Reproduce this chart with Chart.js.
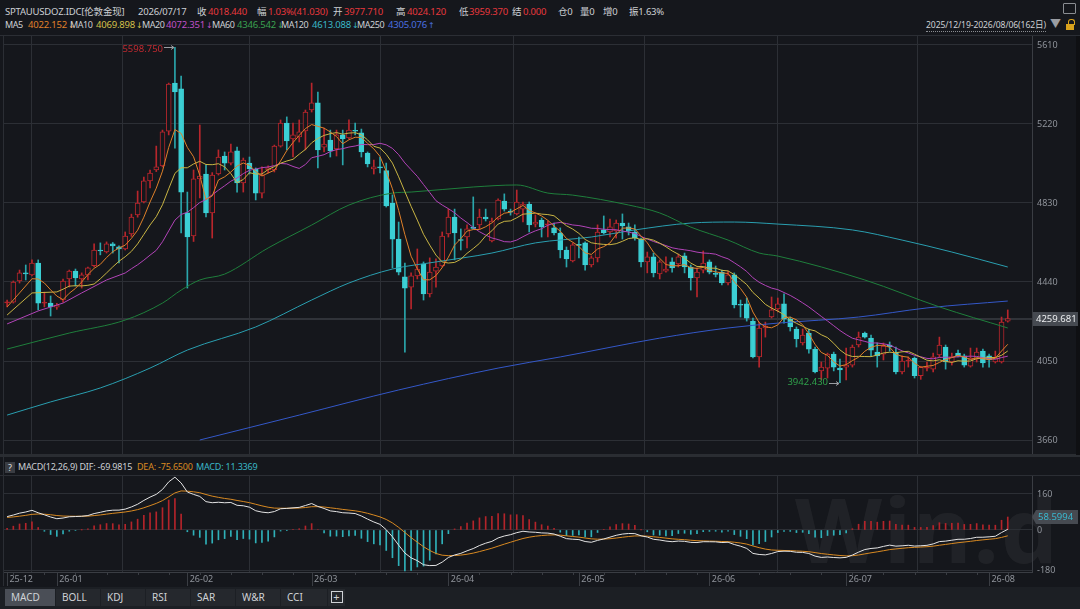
<!DOCTYPE html>
<html>
<head>
<meta charset="utf-8">
<script src="https://cdn.jsdelivr.net/npm/chart.js@4.4.1/dist/chart.umd.min.js"></script>
<style>
  body { margin:0; width:1080px; height:609px; background:#15171c; position:relative; overflow:hidden;
         font-family:"Noto Sans","Noto Sans CJK SC",sans-serif; font-size:9.5px; color:#cdd0d4; }
  .t { position:absolute; white-space:nowrap; line-height:12px; letter-spacing:-0.2px; }
  .lb { font-size:9px; letter-spacing:-0.4px; }
  .ar { font-family:"DejaVu Sans",sans-serif; font-size:8px; margin-left:1px; }
  .red { color:#e8383d; }
  .hl { position:absolute; left:0; width:1080px; height:1px; background:#2b2e34; }
  canvas { position:absolute; left:0; }
  .tab { position:absolute; top:589px; height:17px; line-height:17px; background:#25282d; color:#cfd2d6;
         font-size:10px; padding-left:6px; box-sizing:border-box; }
</style>
</head>
<body>
<!-- header row 1 -->
<span class="t" style="left:5px;top:6px">SPTAUUSDOZ.IDC[伦敦金现]</span>
<span class="t" style="left:138px;top:6px">2026/07/17</span>
<span class="t" style="left:197px;top:6px">收</span><span class="t red" style="left:208px;top:6px">4018.440</span>
<span class="t" style="left:257px;top:6px">幅</span><span class="t red" style="left:268px;top:6px">1.03%(41.030)</span>
<span class="t" style="left:333px;top:6px">开</span><span class="t red" style="left:344px;top:6px">3977.710</span>
<span class="t" style="left:396px;top:6px">高</span><span class="t red" style="left:407px;top:6px">4024.120</span>
<span class="t" style="left:459px;top:6px">低</span><span class="t red" style="left:469px;top:6px">3959.370</span>
<span class="t" style="left:512px;top:6px">结</span><span class="t red" style="left:523px;top:6px">0.000</span>
<span class="t" style="left:558px;top:6px">仓0</span>
<span class="t" style="left:580px;top:6px">量0</span>
<span class="t" style="left:603px;top:6px">增0</span>
<span class="t" style="left:629px;top:6px">振1.63%</span>
<!-- header row 2 -->
<span class="t lb" style="left:5px;top:19px">MA5</span><span class="t" style="left:28px;top:19px;color:#e0802a">4022.152<span class="ar">↓</span></span>
<span class="t lb" style="left:70px;top:19px">MA10</span><span class="t" style="left:96px;top:19px;color:#d4c04a">4069.898<span class="ar">↓</span></span>
<span class="t lb" style="left:142px;top:19px">MA20</span><span class="t" style="left:166px;top:19px;color:#c050c8">4072.351<span class="ar">↓</span></span>
<span class="t lb" style="left:212px;top:19px">MA60</span><span class="t" style="left:237px;top:19px;color:#3aa050">4346.542<span class="ar">↓</span></span>
<span class="t lb" style="left:281px;top:19px">MA120</span><span class="t" style="left:312px;top:19px;color:#3ab8c8">4613.088<span class="ar">↓</span></span>
<span class="t lb" style="left:357px;top:19px">MA250</span><span class="t" style="left:388px;top:19px;color:#4a70e0">4305.076<span class="ar">↑</span></span>
<span class="t" style="left:926px;top:19px;font-size:8.6px;letter-spacing:-0.1px;border-bottom:1px dotted #8a8d92">2025/12/19-2026/08/06(162日)</span>
<span class="t" style="left:1050px;top:18px;color:#9a9da2;font-size:11px">▼</span>
<div style="position:absolute;left:1066px;top:24px;width:8px;height:6px;background:#d9a21c"></div>
<div style="position:absolute;left:1068px;top:19px;width:5px;height:5px;border:1px solid #d9a21c;border-bottom:none;border-radius:3px 3px 0 0"></div>
<div style="position:absolute;left:1063px;top:3px;width:11px;height:9px;border:1px solid #8a8d92;border-radius:1px"></div>

<div class="hl" style="top:35px"></div>
<div class="hl" style="top:454px;height:3px;background:#2a2d32"></div>
<div class="hl" style="top:475px"></div>
<div style="position:absolute;left:3px;top:36px;width:1px;height:550px;background:#2b2e34"></div>
<div style="position:absolute;left:1076px;top:36px;width:4px;height:419px;background:#0f1013"></div>

<!-- MACD title -->
<div style="position:absolute;left:5px;top:462px;width:10px;height:11px;background:#3a3d43;color:#e0e0e0;font-size:9px;line-height:11px;text-align:center">?</div>
<span class="t" style="left:18px;top:461px;font-size:9px">MACD(12,26,9) DIF: -69.9815</span>
<span class="t" style="left:137px;top:461px;font-size:9px;color:#d98a22">DEA: -75.6500</span>
<span class="t" style="left:196px;top:461px;font-size:9px;color:#3ab8c8">MACD: 11.3369</span>

<div class="t" style="left:795px;top:478px;font-size:90px;line-height:100px;font-weight:bold;color:rgba(255,255,255,0.05);letter-spacing:2px">Win.d</div>

<canvas id="main" width="1080" height="418" style="top:36px"></canvas>
<canvas id="macd" width="1080" height="110" style="top:476px"></canvas>

<!-- bottom tabs -->
<div style="position:absolute;left:0;top:587px;width:1080px;height:22px;background:#1c1f24"></div>
<div class="tab" style="left:5px;width:50px;background:#4a4e56">MACD</div>
<div class="tab" style="left:56px;width:44px">BOLL</div>
<div class="tab" style="left:101px;width:44px">KDJ</div>
<div class="tab" style="left:146px;width:44px">RSI</div>
<div class="tab" style="left:191px;width:44px">SAR</div>
<div class="tab" style="left:236px;width:44px">W&amp;R</div>
<div class="tab" style="left:281px;width:46px">CCI</div>
<div class="tab" style="left:328px;width:17px;padding-left:0;text-align:center">
  <span style="display:inline-block;width:10px;height:10px;border:1px solid #cfd2d6;line-height:9px;font-size:11px;margin-top:2px">+</span></div>

<script>
// ---- data: 162 daily candles, 2025/12/19 - 2026/08/06 ----
const opens = [
  4337, 4341, 4445, 4484, 4475, 4534, 4335, 4336, 4316, 4351,
  4455, 4494, 4455, 4475, 4520, 4596, 4588, 4628, 4613, 4603,
  4677, 4771, 4835, 4939, 4993, 5013, 5185, 5422, 5393, 4781,
  4667, 4949, 4973, 4781, 4973, 5062, 5027, 5087, 4929, 5027,
  4998, 4879, 4993, 4993, 5111, 5225, 5146, 5156, 5186, 5289,
  5324, 5106, 5141, 5097, 5166, 5151, 5186, 5176, 5077, 4998,
  5006, 4990, 4830, 4652, 4465, 4415, 4470, 4529, 4381, 4494,
  4519, 4677, 4761, 4650, 4662, 4708, 4722, 4761, 4643, 4751,
  4840, 4788, 4776, 4800, 4825, 4726, 4746, 4722, 4707, 4682,
  4598, 4544, 4625, 4633, 4524, 4559, 4697, 4687, 4692, 4731,
  4712, 4687, 4652, 4539, 4564, 4480, 4494, 4539, 4529, 4569,
  4514, 4460, 4499, 4539, 4482, 4489, 4435, 4475, 4329, 4332,
  4247, 4070, 4213, 4267, 4307, 4332, 4257, 4208, 4139, 4188,
  4109, 4001, 4015, 4084, 4015, 4020, 4030, 4129, 4188, 4163,
  4094, 4084, 4129, 4094, 3996, 4050, 4065, 3977.71, 4015, 4010,
  4080, 4119, 4045, 4089, 4075, 4025, 4060, 4099, 4075, 4045,
  4045, 4247
];
const highs = [
  4351, 4445, 4499, 4524, 4549, 4549, 4390, 4371, 4335, 4455,
  4499, 4504, 4485, 4514, 4628, 4633, 4638, 4635, 4618, 4687,
  4775, 4889, 4958, 4993, 5111, 5190, 5422, 5598.75, 5457, 4884,
  4993, 5215, 5018, 4980, 5092, 5082, 5121, 5106, 5052, 5057,
  5003, 5008, 5013, 5116, 5240, 5255, 5225, 5240, 5289, 5422,
  5378, 5200, 5190, 5190, 5190, 5240, 5225, 5195, 5082, 5042,
  5057, 5027, 4870, 4736, 4534, 4485, 4603, 4539, 4559, 4554,
  4687, 4800, 4800, 4702, 4722, 4860, 4800, 4800, 4756, 4850,
  4875, 4800, 4894, 4835, 4835, 4771, 4756, 4741, 4731, 4707,
  4613, 4633, 4662, 4638, 4569, 4722, 4766, 4751, 4746, 4776,
  4731, 4722, 4657, 4588, 4583, 4549, 4564, 4559, 4578, 4583,
  4524, 4509, 4593, 4549, 4519, 4499, 4494, 4485, 4351, 4361,
  4262, 4242, 4242, 4366, 4361, 4381, 4267, 4218, 4208, 4208,
  4119, 4045, 4089, 4094, 4060, 4114, 4129, 4193, 4193, 4178,
  4139, 4139, 4144, 4119, 4075, 4070, 4070, 4024.12, 4045, 4089,
  4168, 4129, 4089, 4104, 4084, 4114, 4114, 4109, 4084, 4099,
  4267, 4302
];
const lows = [
  4317, 4336, 4435, 4450, 4470, 4302, 4317, 4272, 4305, 4341,
  4415, 4420, 4410, 4450, 4514, 4574, 4583, 4583, 4534, 4598,
  4665, 4760, 4830, 4904, 4985, 5008, 5166, 5101, 4682, 4410,
  4640, 4855, 4761, 4657, 4968, 4993, 5018, 4884, 4884, 4973,
  4845, 4855, 4978, 4983, 5106, 5092, 5057, 5131, 5092, 5279,
  5003, 5082, 5057, 5062, 5018, 5146, 5166, 5057, 5008, 4973,
  4978, 4810, 4509, 4475, 4094, 4307, 4455, 4351, 4366, 4415,
  4514, 4662, 4549, 4598, 4608, 4702, 4702, 4741, 4638, 4746,
  4790, 4770, 4771, 4736, 4687, 4712, 4662, 4662, 4672, 4559,
  4514, 4539, 4559, 4499, 4514, 4539, 4677, 4662, 4657, 4652,
  4672, 4647, 4514, 4485, 4465, 4455, 4489, 4489, 4514, 4485,
  4400, 4366, 4485, 4480, 4465, 4425, 4425, 4312, 4267, 4247,
  4065, 4020, 4168, 4262, 4292, 4237, 4198, 4119, 4129, 4089,
  3991, 3957, 3966, 4001, 3942.43, 3957, 4020, 4119, 4163, 4075,
  4020, 4055, 4099, 3986, 3986, 4020, 3966, 3959.37, 4001, 3996,
  4070, 4010, 4030, 4070, 4020, 4020, 4045, 4020, 4020, 4040,
  4040, 4242
];
const closes = [
  4341, 4440, 4485, 4480, 4534, 4336, 4340, 4317, 4326, 4445,
  4494, 4460, 4475, 4510, 4598, 4593, 4628, 4618, 4603, 4667,
  4761, 4830, 4939, 4978, 5008, 5181, 5417, 5378, 4884, 4662,
  4949, 4963, 4781, 4968, 5057, 5027, 5082, 4929, 5042, 4998,
  4879, 4968, 5003, 5111, 5225, 5136, 5166, 5181, 5279, 5324,
  5092, 5121, 5087, 5166, 5146, 5190, 5184, 5082, 5023, 5008,
  5003, 4815, 4652, 4489, 4410, 4470, 4504, 4381, 4489, 4514,
  4667, 4761, 4682, 4645, 4702, 4705, 4761, 4751, 4741, 4845,
  4800, 4785, 4835, 4825, 4722, 4736, 4712, 4727, 4682, 4598,
  4554, 4623, 4621, 4524, 4559, 4687, 4682, 4712, 4731, 4717,
  4692, 4657, 4539, 4564, 4485, 4539, 4504, 4509, 4564, 4514,
  4460, 4489, 4534, 4489, 4478, 4435, 4475, 4327, 4325, 4262,
  4070, 4213, 4223, 4302, 4332, 4257, 4218, 4159, 4178, 4109,
  3996, 4020, 4084, 4020, 4006, 4030, 4119, 4168, 4168, 4104,
  4075, 4124, 4119, 3996, 4050, 4055, 3977.41, 4018.44, 4020, 4070,
  4129, 4045, 4070, 4075, 4030, 4065, 4094, 4040, 4055, 4065,
  4242, 4259.681
];

// month starts (candle index) and their labels
const monthIdx = [0, 8, 29, 49, 71, 92, 113, 135, 158];
const monthLabels = ['25-12', '26-01', '26-02', '26-03', '26-04', '26-05', '26-06', '26-07', '26-08'];
const priceTicks = [3660, 4050, 4440, 4830, 5220, 5610];
const macdTicks = [-180, 0, 160];

// start of the short averages (window not complete yet)
const ma5HeadIdx = [0, 2];          const ma5HeadVal = [4317, 4386];
const ma10HeadIdx = [0, 4, 8];      const ma10HeadVal = [4277, 4386, 4391];
const ma20HeadIdx = [0, 5, 9, 12, 16]; const ma20HeadVal = [4233, 4297, 4336, 4386, 4450];

// long averages
const ma60Idx = [0, 10, 19, 25, 28, 31, 35, 42, 49, 55, 62, 65, 75, 82, 87, 91, 100, 105, 110, 116, 121, 124, 138, 150, 161];
const ma60Val = [4109, 4188, 4252, 4336, 4400, 4450, 4479, 4608, 4721, 4820, 4879, 4884, 4909, 4919, 4879, 4869, 4820, 4781, 4711, 4647, 4583, 4568, 4450, 4317, 4213];
const ma120Idx = [0, 7, 15, 23, 29, 40, 49, 55, 62, 69, 78, 85, 94, 101, 110, 117, 124, 136, 144, 152, 161];
const ma120Val = [3783, 3848, 3917, 4015, 4104, 4218, 4351, 4435, 4504, 4539, 4583, 4633, 4662, 4697, 4731, 4736, 4726, 4697, 4647, 4588, 4514];
const ma250Idx = [31, 47, 63, 79, 89, 105, 116, 124, 137, 148, 161];
const ma250Val = [3660, 3783, 3907, 4015, 4070, 4163, 4213, 4237, 4267, 4312, 4346];

// MACD(12,26,9) state carried in from before the window
const ema12Seed = 4290, ema26Seed = 4230, deaSeed = 55;
const macdMarkText = '58.5994', macdMarkVal = 58.5994;

const BG = '#15171c', UP = '#b8262c', DN = '#3ccfd4', DN_WICK = '#2aa6ab', GRID = '#2c2f35';

function movingAvg(n, headIdx, headVal) {
    const pts = headIdx.map((x, k) => ({ x: x, y: headVal[k] }));
    for (let i = n - 1; i < closes.length; i++) {
        let s = 0;
        for (let k = i - n + 1; k <= i; k++) s += closes[k];
        pts.push({ x: i, y: s / n });
    }
    return pts;
}
const pairs = (xs, ys) => xs.map((x, k) => ({ x: x, y: ys[k] }));

let e12 = ema12Seed, e26 = ema26Seed, dea = deaSeed;
const difPts = [], deaPts = [], histPts = [];
closes.forEach(function (c, i) {
    e12 += (c - e12) * 2 / 13;
    e26 += (c - e26) * 2 / 27;
    const d = e12 - e26;
    dea += (d - dea) * 2 / 10;
    difPts.push({ x: i, y: d });
    deaPts.push({ x: i, y: dea });
    histPts.push({ x: i, y: 2 * (d - dea) });
});

const isUp = closes.map((c, i) => c >= opens[i]);
const font = { family: '"Noto Sans", sans-serif', size: 9 };

function line(data, color, smooth) {
    return {
        type: 'line', data: data, borderColor: color, borderWidth: 1, pointRadius: 0,
        tension: 0, cubicInterpolationMode: smooth ? 'monotone' : 'default', order: 0
    };
}

const mainDecor = {
    id: 'mainDecor',
    beforeDatasetsDraw(chart) {
        const { ctx, chartArea: a, scales: { y } } = chart;
        const yy = Math.round(y.getPixelForValue(closes[closes.length - 1]));
        ctx.save();
        ctx.fillStyle = '#303339';
        ctx.fillRect(a.left, yy - 1, a.right - a.left, 2);
        ctx.restore();
    },
    afterDraw(chart) {
        const { ctx, chartArea: a, scales: { x, y } } = chart;
        ctx.save();
        ctx.font = '9.5px "Noto Sans", sans-serif';
        ctx.textBaseline = 'middle';
        // highest / lowest marks
        const hi = highs.indexOf(Math.max(...highs));
        const lo = lows.indexOf(Math.min(...lows));
        const marks = [
            [hi, highs[hi], highs[hi].toFixed(3), '#c22a30', 2],
            [lo, lows[lo], lows[lo].toFixed(3), '#2fa04a', -1]
        ];
        marks.forEach(function (m) {
            const px = Math.round(x.getPixelForValue(m[0]));
            const py = Math.round(y.getPixelForValue(m[1])) + 0.5;
            ctx.strokeStyle = '#9a9da2';
            ctx.lineWidth = 1;
            ctx.beginPath();
            ctx.moveTo(px - 11, py); ctx.lineTo(px - 1, py);
            ctx.moveTo(px - 4, py - 2); ctx.lineTo(px - 1, py); ctx.lineTo(px - 4, py + 2);
            ctx.stroke();
            ctx.fillStyle = m[3];
            ctx.textAlign = 'right';
            ctx.fillText(m[2], px - 12, py + m[4]);
        });
        // last price box
        const last = closes[closes.length - 1];
        const ly = Math.round(y.getPixelForValue(last));
        ctx.fillStyle = '#464a51';
        ctx.fillRect(a.right + 1, ly - 7, 45, 14);
        ctx.fillStyle = '#eceef0';
        ctx.textAlign = 'left';
        ctx.fillText(last.toFixed(3), a.right + 4, ly);
        ctx.restore();
    }
};

const macdDecor = {
    id: 'macdDecor',
    afterDraw(chart) {
        const { ctx, chartArea: a, scales: { x, y } } = chart;
        ctx.save();
        ctx.strokeStyle = '#3a3d43';
        ctx.lineWidth = 1;
        ctx.beginPath();
        monthIdx.forEach(function (m) {
            const px = Math.round(x.getPixelForValue(m)) + 0.5;
            ctx.moveTo(px, a.bottom); ctx.lineTo(px, a.bottom + 14);
        });
        for (let i = 1; i < closes.length; i += 5) {
            const px = Math.round(x.getPixelForValue(i)) + 0.5;
            ctx.moveTo(px, a.bottom); ctx.lineTo(px, a.bottom + 3);
        }
        ctx.stroke();
        const my = Math.round(y.getPixelForValue(macdMarkVal));
        ctx.fillStyle = '#464a51';
        ctx.beginPath();
        ctx.moveTo(a.right, my);
        ctx.lineTo(a.right + 4, my - 7);
        ctx.lineTo(a.right + 46, my - 7);
        ctx.lineTo(a.right + 46, my + 7);
        ctx.lineTo(a.right + 4, my + 7);
        ctx.closePath();
        ctx.fill();
        ctx.fillStyle = '#3ab8d0';
        ctx.font = '9.5px "Noto Sans", sans-serif';
        ctx.textBaseline = 'middle';
        ctx.fillText(macdMarkText, a.right + 6, my);
        ctx.restore();
    }
};

const xCommon = {
    type: 'linear', min: -0.5, max: 164.9, offset: false,
    grid: { color: GRID, borderDash: [2, 2], drawTicks: false },
    border: { display: false },
    afterBuildTicks: s => { s.ticks = monthIdx.map(v => ({ value: v })); }
};

new Chart(document.getElementById('main'), {
    type: 'bar',
    data: {
        datasets: [
            line(movingAvg(5, ma5HeadIdx, ma5HeadVal), '#e0802a'),
            line(movingAvg(10, ma10HeadIdx, ma10HeadVal), '#c9b544'),
            line(movingAvg(20, ma20HeadIdx, ma20HeadVal), '#b244b8'),
            line(pairs(ma60Idx, ma60Val), '#1f7f3c', true),
            line(pairs(ma120Idx, ma120Val), '#2a9fb0', true),
            line(pairs(ma250Idx, ma250Val), '#3458c8', true),
            {
                type: 'bar', order: 1, grouped: false,
                data: closes.map((c, i) => ({ x: i, y: [opens[i], c] })),
                backgroundColor: closes.map((c, i) => isUp[i] ? (Math.abs(c - opens[i]) < 8 ? UP : BG) : DN),
                borderColor: isUp.map(u => u ? UP : DN),
                borderWidth: 1, borderSkipped: false, barThickness: 5, minBarLength: 1
            },
            {
                type: 'bar', order: 2, grouped: false,
                data: highs.map((h, i) => ({ x: i, y: [lows[i], h] })),
                backgroundColor: isUp.map(u => u ? UP : DN_WICK),
                barThickness: 1
            }
        ]
    },
    options: {
        responsive: false, animation: false,
        layout: { padding: { left: 4, right: 0, top: 0, bottom: 0 } },
        plugins: { legend: { display: false }, tooltip: { enabled: false } },
        scales: {
            x: Object.assign({}, xCommon, {
                ticks: { display: false },
                afterFit: s => { s.height = 0; s.paddingLeft = 0; s.paddingRight = 0; }
            }),
            y: {
                position: 'right', min: 3590.9, max: 5654.4,
                afterBuildTicks: s => { s.ticks = priceTicks.map(v => ({ value: v })); },
                afterFit: s => { s.width = 48; s.paddingTop = 0; s.paddingBottom = 0; },
                ticks: { color: '#8f939a', font: font, padding: 5, callback: v => String(v) },
                grid: { color: GRID, borderDash: [2, 2], drawTicks: false },
                border: { display: true, color: '#3a3d43' }
            }
        }
    },
    plugins: [mainDecor]
});

new Chart(document.getElementById('macd'), {
    type: 'bar',
    data: {
        datasets: [
            line(difPts, '#e4e4e4'),
            line(deaPts, '#d98a22'),
            {
                type: 'bar', order: 1, grouped: false, data: histPts,
                backgroundColor: histPts.map(p => p.y >= 0 ? '#b3242a' : '#2fb0b8'),
                barThickness: 1
            }
        ]
    },
    options: {
        responsive: false, animation: false,
        layout: { padding: { left: 4, right: 0, top: 0, bottom: 0 } },
        plugins: { legend: { display: false }, tooltip: { enabled: false } },
        scales: {
            x: Object.assign({}, xCommon, {
                border: { display: true, color: '#3a3d43' },
                ticks: {
                    color: '#8f939a', font: font, padding: 2, align: 'start', autoSkip: false, maxRotation: 0,
                    callback: (v, i) => ' ' + monthLabels[i]
                },
                afterFit: s => { s.height = 14; s.paddingLeft = 0; s.paddingRight = 0; }
            }),
            y: {
                position: 'right', min: -186.7, max: 240,
                afterBuildTicks: s => { s.ticks = macdTicks.map(v => ({ value: v })); },
                afterFit: s => { s.width = 48; s.paddingTop = 0; s.paddingBottom = 0; },
                ticks: { color: '#8f939a', font: font, padding: 5, callback: v => String(v) },
                grid: { color: GRID, borderDash: [2, 2], drawTicks: false },
                border: { display: true, color: '#3a3d43' }
            }
        }
    },
    plugins: [macdDecor]
});
</script>
</body>
</html>
